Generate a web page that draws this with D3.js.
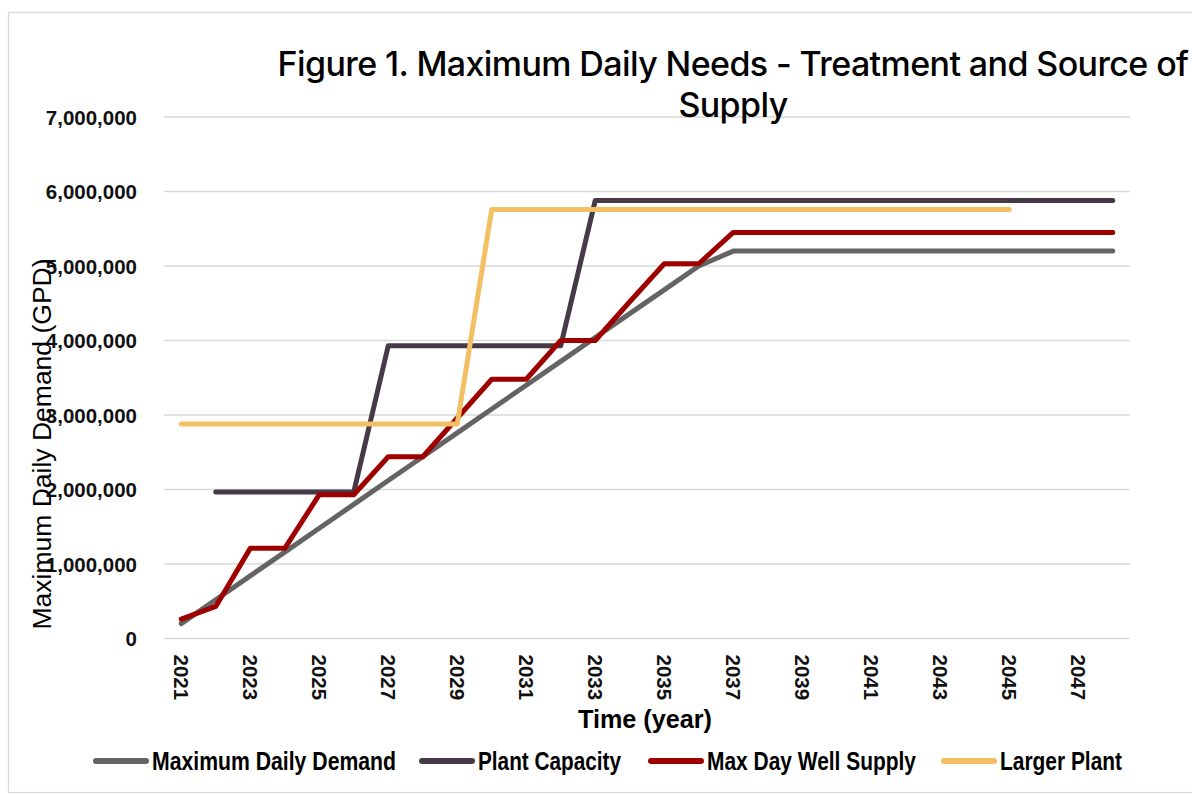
<!DOCTYPE html>
<html>
<head>
<meta charset="utf-8">
<script src="https://cdn.jsdelivr.net/npm/d3@7"></script>
<style>
  html, body { margin: 0; padding: 0; background: #ffffff; }
  svg { display: block; }
</style>
</head>
<body>
<svg id="chart" width="1192" height="794"></svg>
<script>
// ---------------- data ----------------
const years = [2021, 2022, 2023, 2024, 2025, 2026, 2027, 2028, 2029, 2030,
               2031, 2032, 2033, 2034, 2035, 2036, 2037, 2038, 2039, 2040,
               2041, 2042, 2043, 2044, 2045, 2046, 2047, 2048];

const maxDailyDemand = [200000, 520000, 840000, 1160000, 1480000, 1800000, 2120000, 2440000,
                        2760000, 3080000, 3400000, 3720000, 4040000, 4360000, 4680000, 5000000,
                        5200000, 5200000, 5200000, 5200000, 5200000, 5200000, 5200000, 5200000,
                        5200000, 5200000, 5200000, 5200000];

const plantCapacity = [null, 1965000, 1965000, 1965000, 1965000, 1965000, 3930000, 3930000,
                       3930000, 3930000, 3930000, 3930000, 5880000, 5880000, 5880000, 5880000,
                       5880000, 5880000, 5880000, 5880000, 5880000, 5880000, 5880000, 5880000,
                       5880000, 5880000, 5880000, 5880000];

const maxDayWellSupply = [260000, 430000, 1210000, 1210000, 1930000, 1930000, 2440000, 2440000,
                          2960000, 3480000, 3480000, 4000000, 4000000, 4520000, 5030000, 5030000,
                          5450000, 5450000, 5450000, 5450000, 5450000, 5450000, 5450000, 5450000,
                          5450000, 5450000, 5450000, 5450000];

const largerPlant = [2880000, 2880000, 2880000, 2880000, 2880000, 2880000, 2880000, 2880000,
                     2880000, 5760000, 5760000, 5760000, 5760000, 5760000, 5760000, 5760000,
                     5760000, 5760000, 5760000, 5760000, 5760000, 5760000, 5760000, 5760000,
                     5760000, null, null, null];

const yTicks = [0, 1000000, 2000000, 3000000, 4000000, 5000000, 6000000, 7000000];
const xTickLabels = [2021, 2023, 2025, 2027, 2029, 2031, 2033, 2035, 2037, 2039, 2041, 2043, 2045, 2047];

const seriesNames = ["Maximum Daily Demand", "Plant Capacity", "Max Day Well Supply", "Larger Plant"];
const seriesColors = ["#646464", "#463a48", "#9e0000", "#f2c062"];
const seriesValues = [maxDailyDemand, plantCapacity, maxDayWellSupply, largerPlant];

const titleLines = ["Figure 1. Maximum Daily Needs - Treatment and Source of", "Supply"];
const xTitle = "Time (year)";
const yTitle = "Maximum Daily Demand (GPD)";

// ---------------- layout ----------------
const svg = d3.select("#chart");
const plot = { left: 164, right: 1130, top: 117, bottom: 638.5 };

// outer chart border
svg.append("rect")
  .attr("x", 8.5).attr("y", 12.5)
  .attr("width", 1200).attr("height", 780)
  .attr("fill", "none").attr("stroke", "#d9d9d9").attr("stroke-width", 1.3);

const x = d3.scaleBand().domain(years).range([plot.left, plot.right]).paddingInner(0).paddingOuter(0);
const cx = d => x(d) + x.bandwidth() / 2;
const y = d3.scaleLinear().domain([0, 7000000]).range([plot.bottom, plot.top]);

// gridlines
svg.append("g").selectAll("line").data(yTicks).join("line")
  .attr("x1", plot.left).attr("x2", plot.right)
  .attr("y1", d => y(d)).attr("y2", d => y(d))
  .attr("stroke", "#d9d9d9").attr("stroke-width", 1.5);

const condensed = "'Liberation Sans', Arial, sans-serif";

// y axis labels
const yAxis = d3.axisLeft(y).tickValues(yTicks).tickFormat(d3.format(",")).tickSize(0).tickPadding(0);
const gy = svg.append("g").attr("transform", `translate(${plot.left - 27},0)`).call(yAxis);
gy.select(".domain").remove();
gy.selectAll("text")
  .attr("fill", "#111")
  .attr("dy", "0.36em")
  .style("font-family", condensed)
  .style("font-size", "20.5px")
  .style("font-weight", "bold");

// x axis labels (rotated)
const xAxis = d3.axisBottom(x).tickValues(xTickLabels).tickSize(0).tickPadding(0);
const gx = svg.append("g").attr("transform", `translate(0,${plot.bottom + 16})`).call(xAxis);
gx.select(".domain").remove();
gx.selectAll("text")
  .attr("fill", "#111")
  .attr("transform", "rotate(90)")
  .attr("x", 0).attr("y", 0).attr("dy", "0.36em")
  .attr("text-anchor", "start")
  .style("font-family", condensed)
  .style("font-size", "20.5px")
  .style("font-weight", "bold");

// series lines
const line = d3.line()
  .defined(d => d.v !== null)
  .x(d => cx(d.year))
  .y(d => y(d.v));

seriesValues.forEach((vals, i) => {
  const pts = years.map((yr, j) => ({ year: yr, v: vals[j] }));
  svg.append("path")
    .datum(pts)
    .attr("d", line)
    .attr("fill", "none")
    .attr("stroke", seriesColors[i])
    .attr("stroke-width", 5)
    .attr("stroke-linejoin", "round")
    .attr("stroke-linecap", "round");
});

// title
const title = svg.append("text")
  .attr("text-anchor", "middle")
  .attr("fill", "#000")
  .style("font-family", "Inter, 'Liberation Sans', sans-serif")
  .style("font-size", "34px")
  .style("font-weight", "500")
  .style("letter-spacing", "-0.6px");
title.selectAll("tspan").data(titleLines).join("tspan")
  .attr("x", 733)
  .attr("y", (d, i) => 76 + i * 41)
  .text(d => d);

// axis titles
svg.append("text")
  .attr("x", 578).attr("y", 728)
  .attr("textLength", 134).attr("lengthAdjust", "spacingAndGlyphs")
  .attr("fill", "#000")
  .style("font-family", condensed)
  .style("font-size", "26px")
  .style("font-weight", "bold")
  .text(xTitle);

svg.append("text")
  .attr("transform", `translate(51,444) rotate(-90)`)
  .attr("text-anchor", "middle")
  .attr("fill", "#000")
  .style("font-family", "'Liberation Sans', Arial, sans-serif")
  .style("font-size", "26.5px")
  .text(yTitle);

// legend
const legendX = [93, 419, 648, 941];
const legendTextW = [244, 143, 209, 122];
const leg = svg.append("g");
seriesNames.forEach((name, i) => {
  const g = leg.append("g").attr("transform", `translate(${legendX[i]},761)`);
  g.append("line")
    .attr("x1", 3).attr("x2", 53).attr("y1", 0).attr("y2", 0)
    .attr("stroke", seriesColors[i]).attr("stroke-width", 6).attr("stroke-linecap", "round");
  g.append("text")
    .attr("x", 59).attr("y", 9)
    .attr("textLength", legendTextW[i]).attr("lengthAdjust", "spacingAndGlyphs")
    .attr("fill", "#000")
    .style("font-family", condensed)
    .style("font-size", "25px")
    .style("font-weight", "bold")
    .text(name);
});
</script>
</body>
</html>
